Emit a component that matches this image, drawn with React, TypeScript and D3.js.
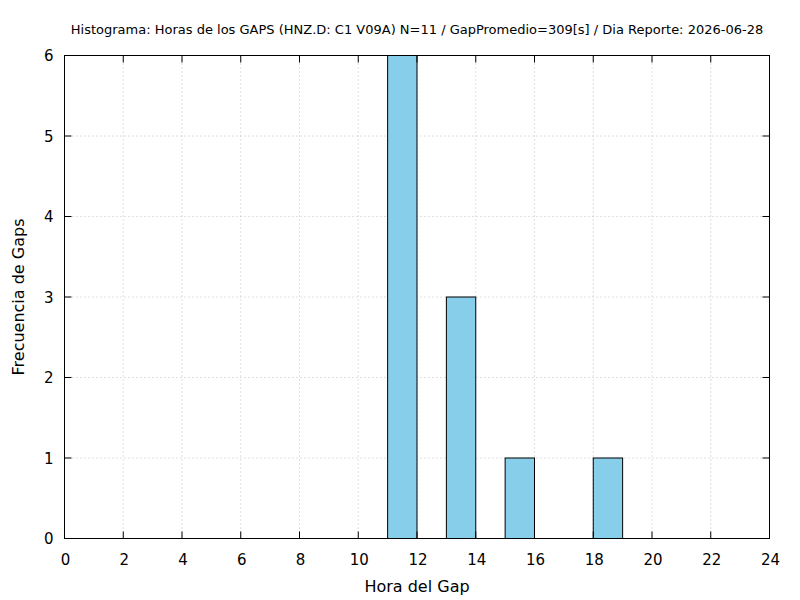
import React from "react";
import * as d3 from "d3";

// bins: hour start, count
const binStarts = [11, 13, 15, 18];
const binCounts = [6, 3, 1, 1];
const binWidth = 1;

const xTicks = [0, 2, 4, 6, 8, 10, 12, 14, 16, 18, 20, 22, 24];
const yTicks = [0, 1, 2, 3, 4, 5, 6];

const title =
  "Histograma: Horas de los GAPS (HNZ.D: C1 V09A) N=11 / GapPromedio=309[s] / Dia Reporte: 2026-06-28";

export default function App() {
  const W = 800;
  const H = 600;
  const margin = { top: 55.5, right: 30.5, bottom: 61.5, left: 64.5 };
  const left = margin.left;
  const right = W - margin.right;
  const top = margin.top;
  const bottom = H - margin.bottom;

  const x = d3.scaleLinear().domain([0, 24]).range([left, right]);
  const y = d3.scaleLinear().domain([0, 6]).range([bottom, top]);
  const font = "DejaVu Sans, sans-serif";
  const tick = 7;

  return (
    <svg
      width={W}
      height={H}
      style={{ position: "absolute", left: 0, top: 0, background: "#fff" }}
      fontFamily={font}
    >
      <rect x={0} y={0} width={W} height={H} fill="#fff" />
      {/* grid */}
      {xTicks.slice(1, -1).map((t) => (
        <line
          key={"gx" + t}
          x1={x(t)}
          x2={x(t)}
          y1={top}
          y2={bottom}
          stroke="#b0b0b0"
          strokeWidth={0.8}
          strokeDasharray="1,3"
        />
      ))}
      {yTicks.slice(1, -1).map((t) => (
        <line
          key={"gy" + t}
          x1={left}
          x2={right}
          y1={y(t)}
          y2={y(t)}
          stroke="#b0b0b0"
          strokeWidth={0.8}
          strokeDasharray="1,3"
        />
      ))}
      {/* bars */}
      {binStarts.map((b, i) => (
        <rect
          key={"b" + b}
          x={x(b)}
          y={y(binCounts[i])}
          width={x(b + binWidth) - x(b)}
          height={y(0) - y(binCounts[i])}
          fill="#87ceeb"
          stroke="#000"
          strokeWidth={1}
        />
      ))}
      {/* ticks */}
      {xTicks.map((t) => (
        <g key={"tx" + t}>
          <line x1={x(t)} x2={x(t)} y1={bottom} y2={bottom - tick} stroke="#000" />
          <line x1={x(t)} x2={x(t)} y1={top} y2={top + tick} stroke="#000" />
          <text
            x={x(t) + 1}
            y={bottom + 26}
            textAnchor="middle"
            fontSize={15}
            fill="#000"
          >
            {t}
          </text>
        </g>
      ))}
      {yTicks.map((t) => (
        <g key={"ty" + t}>
          <line x1={left} x2={left + tick} y1={y(t)} y2={y(t)} stroke="#000" />
          <line x1={right} x2={right - tick} y1={y(t)} y2={y(t)} stroke="#000" />
          <text
            x={left - 11}
            y={y(t) + 5.5}
            textAnchor="end"
            fontSize={15}
            fill="#000"
          >
            {t}
          </text>
        </g>
      ))}
      {/* border */}
      <rect
        x={left}
        y={top}
        width={right - left}
        height={bottom - top}
        fill="none"
        stroke="#000"
        strokeWidth={1}
      />
      <text x={417} y={34} textAnchor="middle" fontSize={13} fill="#000">
        {title}
      </text>
      <text x={417} y={592} textAnchor="middle" fontSize={16} fill="#000">
        Hora del Gap
      </text>
      <text
        transform={`translate(24,${(top + bottom) / 2}) rotate(-90)`}
        textAnchor="middle"
        fontSize={16}
        fill="#000"
      >
        Frecuencia de Gaps
      </text>
    </svg>
  );
}
